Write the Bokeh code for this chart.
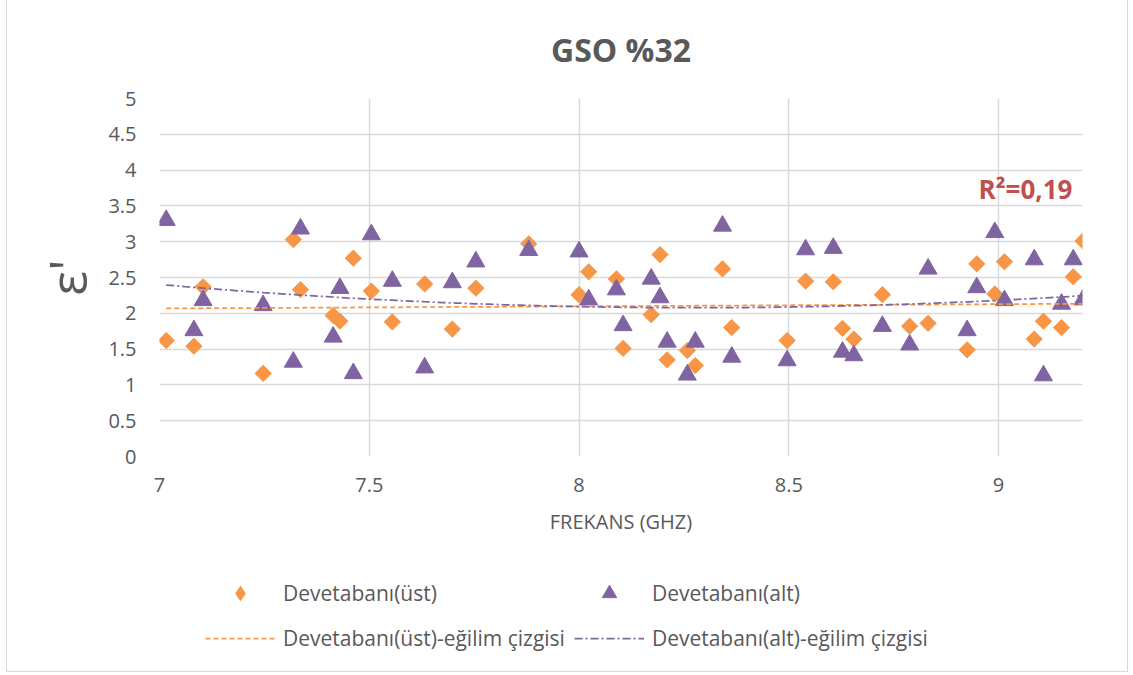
import math
import numpy as np
from bokeh.plotting import figure
from bokeh.layouts import column
from bokeh.models import Range1d, FixedTicker, Legend, LegendItem, Label
from bokeh.embed import file_html
from bokeh.resources import INLINE

# ---- data ----
freq = [7.016, 7.082, 7.104, 7.247, 7.319, 7.336, 7.414, 7.430, 7.462, 7.505,
        7.555, 7.632, 7.698, 7.754, 7.880, 8.000, 8.023, 8.089, 8.105, 8.172,
        8.193, 8.210, 8.258, 8.277, 8.342, 8.364, 8.496, 8.540, 8.606, 8.628,
        8.655, 8.723, 8.788, 8.832, 8.925, 8.948, 8.991, 9.014, 9.085, 9.107,
        9.150, 9.178, 9.201]
ust = [1.62, 1.54, 2.37, 1.16, 3.03, 2.33, 1.97, 1.89, 2.77, 2.31,
       1.88, 2.41, 1.78, 2.35, 2.97, 2.26, 2.58, 2.48, 1.51, 1.98,
       2.82, 1.35, 1.48, 1.27, 2.62, 1.80, 1.62, 2.45, 2.44, 1.79,
       1.64, 2.26, 1.82, 1.86, 1.49, 2.69, 2.27, 2.72, 1.64, 1.89,
       1.80, 2.51, 3.01]
alt = [3.30, 1.76, 2.18, 2.11, 1.32, 3.18, 1.67, 2.35, 1.16, 3.10,
       2.45, 1.24, 2.43, 2.72, 2.88, 2.86, 2.19, 2.33, 1.83, 2.48,
       2.22, 1.60, 1.14, 1.60, 3.22, 1.39, 1.34, 2.89, 2.91, 1.46,
       1.41, 1.82, 1.56, 2.62, 1.76, 2.36, 3.13, 2.18, 2.75, 1.13,
       2.13, 2.75, 2.19]

x_ticks = [7, 7.5, 8, 8.5, 9]
x_tick_labels = ["7", "7.5", "8", "8.5", "9"]
y_ticks = [0, 0.5, 1, 1.5, 2, 2.5, 3, 3.5, 4, 4.5, 5]
y_tick_labels = ["0", "0.5", "1", "1.5", "2", "2.5", "3", "3.5", "4", "4.5", "5"]

title_text = "GSO %32"
x_title = "FREKANS (GHZ)"
y_title = "ε'"
series_names = ["Devetabanı(üst)", "Devetabanı(alt)"]
trend_names = ["Devetabanı(üst)-eğilim çizgisi", "Devetabanı(alt)-eğilim çizgisi"]
r2_text = "R²=0,19"

FONT = "Open Sans"
GRAY = "#595959"
GRID = "#d9d9d9"
ORANGE = "#F79646"
PURPLE = "#8064A2"

UST_STYLE = dict(marker="square", angle=math.pi / 4, size=11.5, fill_color=ORANGE, line_color=ORANGE)
UST_LEGEND_STYLE = dict(marker="diamond", fill_color=ORANGE, line_color=ORANGE)
ALT_STYLE = dict(marker="triangle", size=18, fill_color=PURPLE, line_color=PURPLE)
T1_STYLE = dict(line_color=ORANGE, line_dash="5 3", line_width=1.75)
T2_STYLE = dict(line_color=PURPLE, line_dash="8 3 2 3", line_width=1.75)


def key(t):
    return int(t) if float(t).is_integer() else t


# trend lines fitted from the data
xs = np.linspace(min(freq), max(freq), 200)
c_ust = np.polyfit(freq, ust, 1)
c_alt = np.polyfit(freq, alt, 2)
trend_ust = np.polyval(c_ust, xs)
trend_alt = np.polyval(c_alt, xs)

# ---------------- main chart ----------------
p = figure(width=1120, height=560,
           x_range=Range1d(7, 9.2), y_range=Range1d(0, 5),
           output_backend="svg", toolbar_location=None,
           title=title_text,
           min_border_left=152, min_border_right=45,
           min_border_top=98, min_border_bottom=104)
p.outline_line_color = None
p.background_fill_color = "white"
p.border_fill_color = "white"

p.title.align = "center"
p.title.vertical_align = "top"
p.title.standoff = 52
p.title.text_font = FONT
p.title.text_font_size = "32px"
p.title.text_font_style = "bold"
p.title.text_color = GRAY

p.xaxis.ticker = FixedTicker(ticks=x_ticks)
p.yaxis.ticker = FixedTicker(ticks=y_ticks)
p.xaxis.major_label_overrides = {key(t): l for t, l in zip(x_ticks, x_tick_labels)}
p.yaxis.major_label_overrides = {key(t): l for t, l in zip(y_ticks, y_tick_labels)}
for ax in (p.xaxis[0], p.yaxis[0]):
    ax.axis_line_color = None
    ax.major_tick_line_color = None
    ax.minor_tick_line_color = None
    ax.major_tick_out = 0
    ax.major_tick_in = 0
    ax.major_label_text_font = FONT
    ax.major_label_text_font_size = "20px"
    ax.major_label_text_color = GRAY
    ax.axis_label_text_font = FONT
    ax.axis_label_text_font_style = "normal"
    ax.axis_label_text_color = GRAY
p.xaxis.major_label_standoff = 21
p.yaxis.major_label_standoff = 23
p.xaxis.axis_label = x_title
p.xaxis.axis_label_text_font_size = "20px"
p.xaxis.axis_label_standoff = 13
p.yaxis.axis_label = y_title
p.yaxis.axis_label_text_font_size = "52px"
p.yaxis.axis_label_standoff = 3

p.xgrid.ticker = FixedTicker(ticks=x_ticks)
p.ygrid.ticker = FixedTicker(ticks=y_ticks)
for g in (p.xgrid[0], p.ygrid[0]):
    g.grid_line_color = GRID
    g.grid_line_width = 1.5

p.scatter(freq, ust, **UST_STYLE)
p.scatter(freq, alt, **ALT_STYLE)
p.line(xs, trend_ust, **T1_STYLE)
p.line(xs, trend_alt, **T2_STYLE)

p.add_layout(Label(x=9.064, y=3.74, text=r2_text, text_align="center", text_baseline="middle",
                   text_font=FONT, text_font_style="bold", text_font_size="26px",
                   text_color="#C0504D"))

# ---------------- legend strip (same series, drawn out of its view range) ----------------
q = figure(width=1120, height=111, output_backend="svg", toolbar_location=None,
           x_range=Range1d(0, 1), y_range=Range1d(0, 1),
           x_axis_type=None, y_axis_type=None, min_border=0)
q.grid.visible = False
q.outline_line_color = None
q.background_fill_color = "white"
q.border_fill_color = "white"
l_ust = q.scatter(freq, ust, **UST_LEGEND_STYLE)
l_alt = q.scatter(freq, alt, **ALT_STYLE)
l_t1 = q.line(xs, trend_ust, **T1_STYLE)
l_t2 = q.line(xs, trend_alt, **T2_STYLE)

legend = Legend(items=[LegendItem(label=series_names[0], renderers=[l_ust]),
                       LegendItem(label=series_names[1], renderers=[l_alt]),
                       LegendItem(label=trend_names[0], renderers=[l_t1]),
                       LegendItem(label=trend_names[1], renderers=[l_t2])],
                orientation="horizontal", ncols=2,
                location=(46, 15), margin=0,
                glyph_width=70, glyph_height=36, label_height=36, label_standoff=8,
                spacing=9, padding=0, border_line_color=None,
                background_fill_alpha=0, label_text_font=FONT,
                label_text_font_size="21px", label_text_color=GRAY)
q.add_layout(legend)

border = "1px solid #d9d9d9"
layout = column(p, q, spacing=0)
layout.styles = {"margin-left": "6px", "border-left": border,
                 "border-right": border, "border-bottom": border}

open("out.html", "w").write(file_html(layout, INLINE))
